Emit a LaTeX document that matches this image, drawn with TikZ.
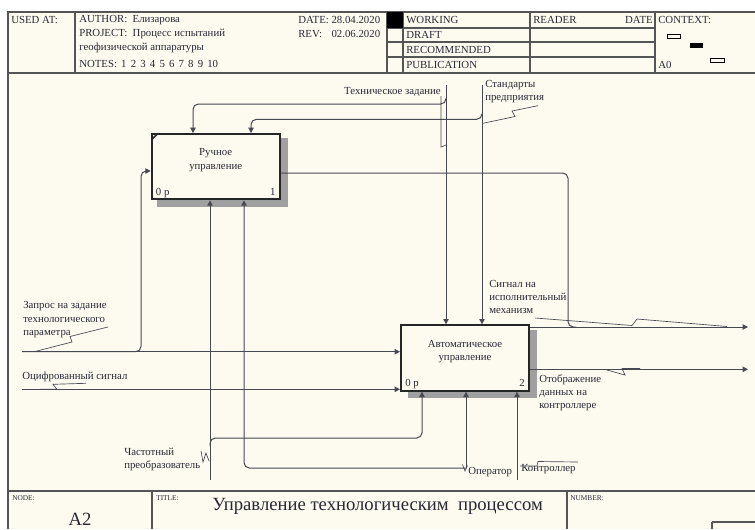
\documentclass[tikz,border=0pt]{standalone}
\usepackage{fontspec}
\setmainfont{Liberation Serif}
\usetikzlibrary{arrows.meta,calc}
\definecolor{paper}{RGB}{253,250,240}
\definecolor{ink}{RGB}{40,40,50}
\definecolor{framec}{RGB}{85,85,85}
\definecolor{shade}{RGB}{160,160,160}
\newcommand{\nsp}{\ \kern1.1pt}
\begin{document}
\begin{tikzpicture}[x=0.75pt,y=-0.75pt,
  every node/.style={font=\fontsize{8.1pt}{10.1pt}\selectfont, text=ink, inner sep=0pt},
  frameline/.style={draw=framec, line width=0.9pt},
  procbox/.style={draw=black!85, line width=1.5pt, fill=paper, minimum width=96pt, minimum height=49pt, inner sep=0pt},
  conn/.style={draw=ink!85, line width=0.75pt},
  arr/.style={conn, -{Triangle[length=4pt,width=4pt]}},
  squig/.style={draw=ink!85, line width=0.5pt},
  lbl/.style={align=left, anchor=west},
  hdr/.style={anchor=west},
  small/.style={anchor=west, font=\fontsize{5.5pt}{6pt}\selectfont},
  boxtxt/.style={align=center},
  shadowc/.style={fill=shade}
]
% background and bounding box
\fill[white] (0,0) rectangle (755,529);
\fill[paper] (8,12) rectangle (755,529);
\useasboundingbox (0,0) rectangle (755,529);

% ---------- header frame ----------
\draw[frameline] (8,529) -- (8,12) -- (760,12);
\draw[frameline] (8,73) -- (760,73);
\draw[frameline] (75,12) -- (75,73);
\draw[frameline] (387,12) -- (387,73);
\draw[frameline] (403,12) -- (403,73);
\draw[frameline] (530,12) -- (530,73);
\draw[frameline] (655,12) -- (655,73);
\draw[frameline] (387,28) -- (655,28);
\draw[frameline] (387,42) -- (655,42);
\draw[frameline] (387,57) -- (655,57);
\fill[black] (387,12) rectangle (403,28);

\node[hdr] (usedat) at (11,20) {USED AT:};
\node[hdr] (author) at (79,20) {AUTHOR:\ \ Елизарова};
\node[hdr] (project) at (79,34) {PROJECT:\ \ Процесс испытаний};
\node[hdr] (project2) at (79,48) {геофизической аппаратуры};
\node[hdr] (notes) at (79,64) {NOTES:\nsp 1\nsp 2\nsp 3\nsp 4\nsp 5\nsp 6\nsp 7\nsp 8\nsp 9\nsp 10};
\node[hdr] (date) at (298,20) {DATE: 28.04.2020};
\node[hdr] (rev) at (298,34) {REV:};
\node[anchor=east] (revd) at (date.east |- rev) {02.06.2020};
\node[hdr] (working) at (406,20) {WORKING};
\node[hdr] (draft) at (406,34.5) {DRAFT};
\node[hdr] (recom) at (406,49.5) {RECOMMENDED};
\node[hdr] (publ) at (406,64.5) {PUBLICATION};
\node[hdr] (reader) at (533,20) {READER};
\node[anchor=east] (rdate) at (653,20) {DATE};
\node[hdr] (context) at (658,20) {CONTEXT:};
\node[hdr] (a0) at (658,65) {A0};
\draw[draw=black, line width=0.6pt] (667,34) rectangle (680,38.5);
\fill[black] (690,43) rectangle (703,47.5);
\draw[draw=black, line width=0.6pt] (710,58) rectangle (724,62.5);

% ---------- footer ----------
\draw[frameline] (8,491) -- (760,491);
\draw[frameline] (152,491) -- (152,529);
\draw[frameline] (567,491) -- (567,529);
\draw[frameline] (712,522) -- (712,529);
\draw[frameline] (712,522) -- (760,522);
\node[small] (nodelbl) at (12,498) {NODE:};
\node[small] (titlelbl) at (156,498) {TITLE:};
\node[small] (numlbl) at (570,498) {NUMBER:};
\node[anchor=base west, font=\fontsize{14pt}{15pt}\selectfont] (title) at (212,510) {Управление технологическим\ \ процессом};
\node[anchor=base, font=\fontsize{14pt}{15pt}\selectfont] (nodeid) at (80,525) {A2};

% ---------- shadows ----------
\fill[shadowc] (281,138) rectangle (288,207);
\fill[shadowc] (157,200) rectangle (288,207);
\fill[shadowc] (529,330) rectangle (537,398);
\fill[shadowc] (408,391) rectangle (537,398);

% ---------- boxes ----------
\node[procbox] (box1) at (215.7,166.7) {};
\node[procbox] (box2) at (465,358) {};
\draw[line width=1.2pt, draw=black!85] ($(box1.north west)+(1.5,6)$) -- ($(box1.north west)+(7,0.5)$);
\node[boxtxt] (b1t) at ($(box1.north)+(0,27)$) {Ручное\\управление};
\node[boxtxt] (b2t) at ($(box2.north)+(0,27)$) {Автоматическое\\управление};
\node[anchor=base west] (b1c) at ($(box1.south west)+(5,-5)$) {0 р};
\node[anchor=base east] (b1n) at ($(box1.south east)+(-5,-5)$) {1};
\node[anchor=base west] (b2c) at ($(box2.south west)+(5,-5)$) {0 р};
\node[anchor=base east] (b2n) at ($(box2.south east)+(-5,-5)$) {2};

% ---------- coordinates ----------
\coordinate (qin) at (22,351.7);
\coordinate (qup) at (141,351.7);
\coordinate (b1in) at (141,171);
\coordinate (oin) at (22,389.3);
\coordinate (fq) at (210,480);
\coordinate (fqr) at (422,438);
\coordinate (opc) at (466,468);
\coordinate (m2) at (244,468);
\coordinate (ct) at (517,480);
\coordinate (tz) at (446,85);
\coordinate (tzb) at (193,104);
\coordinate (st) at (482,85);
\coordinate (stb) at (251,119.3);
\coordinate (o1) at (568,173);
\coordinate (o2) at (748,327);
\coordinate (o3) at (748,369.3);

% ---------- inputs ----------
\draw[arr] (qin) -- (qin -| box2.west);
\draw[arr, rounded corners=4] (qin) -- (qup) -- (b1in) -- (b1in -| box1.west);
\draw[arr] (oin) -- (oin -| box2.west);

% ---------- mechanisms ----------
\draw[arr] (fq) -- (fq |- box1.south);
\draw[arr, rounded corners=4] ($(fq |- fqr)+(0,8)$) -- (fq |- fqr) -- (fqr) -- (fqr |- box2.south);
\draw[arr, rounded corners=4] (opc) -- (m2) -- (m2 |- box1.south);
\draw[arr] (opc) -- (opc |- box2.south);
\draw[arr] (ct) -- (ct |- box2.south);

% ---------- controls ----------
\draw[arr] (tz) -- (tz |- box2.north);
\draw[arr, rounded corners=4] ($(tz |- tzb)+(0,-6)$) -- (tz |- tzb) -- (tzb) -- (tzb |- box1.north);
\draw[arr] (st) -- (st |- box2.north);
\draw[arr, rounded corners=4] ($(st |- stb)+(0,-6)$) -- (st |- stb) -- (stb) -- (stb |- box1.north);

% ---------- outputs ----------
\draw[conn, rounded corners=4] (box1.east |- o1) -- (o1) -- (o1 |- o2) -- ($(o1 |- o2)+(8,0)$);
\draw[arr] (box2.east |- o2) -- (o2);
\draw[arr] (box2.east |- o3) -- (o3);

% ---------- labels ----------
\node[anchor=east] (ltz) at (441,92) {Техническое задание};
\node[lbl] (lst) at (485,91.5) {Стандарты\\предприятия};
\node[lbl] (lq) at (23,319.7) {Запрос на задание\\технологического\\параметра};
\node[lbl] (lo) at (22,377.3) {Оцифрованный сигнал};
\node[lbl] (lfq) at (124,459.7) {Частотный\\преобразователь};
\node[lbl] (lop) at (468,471.7) {Оператор};
\node[lbl] (lct) at (521,469.3) {Контроллер};
\node[lbl] (ls) at (489,297) {Сигнал на\\исполнительный\\механизм};
\node[lbl] (ld) at (539,392.8) {Отображение\\данных на\\контроллере};

% ---------- squiggles ----------
\draw[squig] (35,351.5) -- (72,342) -- (70,336.5) -- (108,327);
\draw[squig] (40,389.3) -- (57,389.3) -- (53,384.3) -- (86,383.3);
\draw[squig] (201,451) -- (203,462) -- (206,453) -- (209,461);
\draw[squig] (462.5,464.5) -- (465,471) -- (467.5,465.5);
\draw[squig] (520,466) -- (537,466) -- (538,461.5) -- (578,462);
\draw[squig] (441,96) -- (441,147) -- (446,145);
\draw[squig] (538,105.7) -- (512,111) -- (515,116.5) -- (483,123.3);
\draw[squig] (535,318) -- (632,325.5) -- (637,319) -- (727,326.5);
\draw[squig] (607,370) -- (625,375) -- (622,368.5) -- (640,368.5);
\end{tikzpicture}
\end{document}
